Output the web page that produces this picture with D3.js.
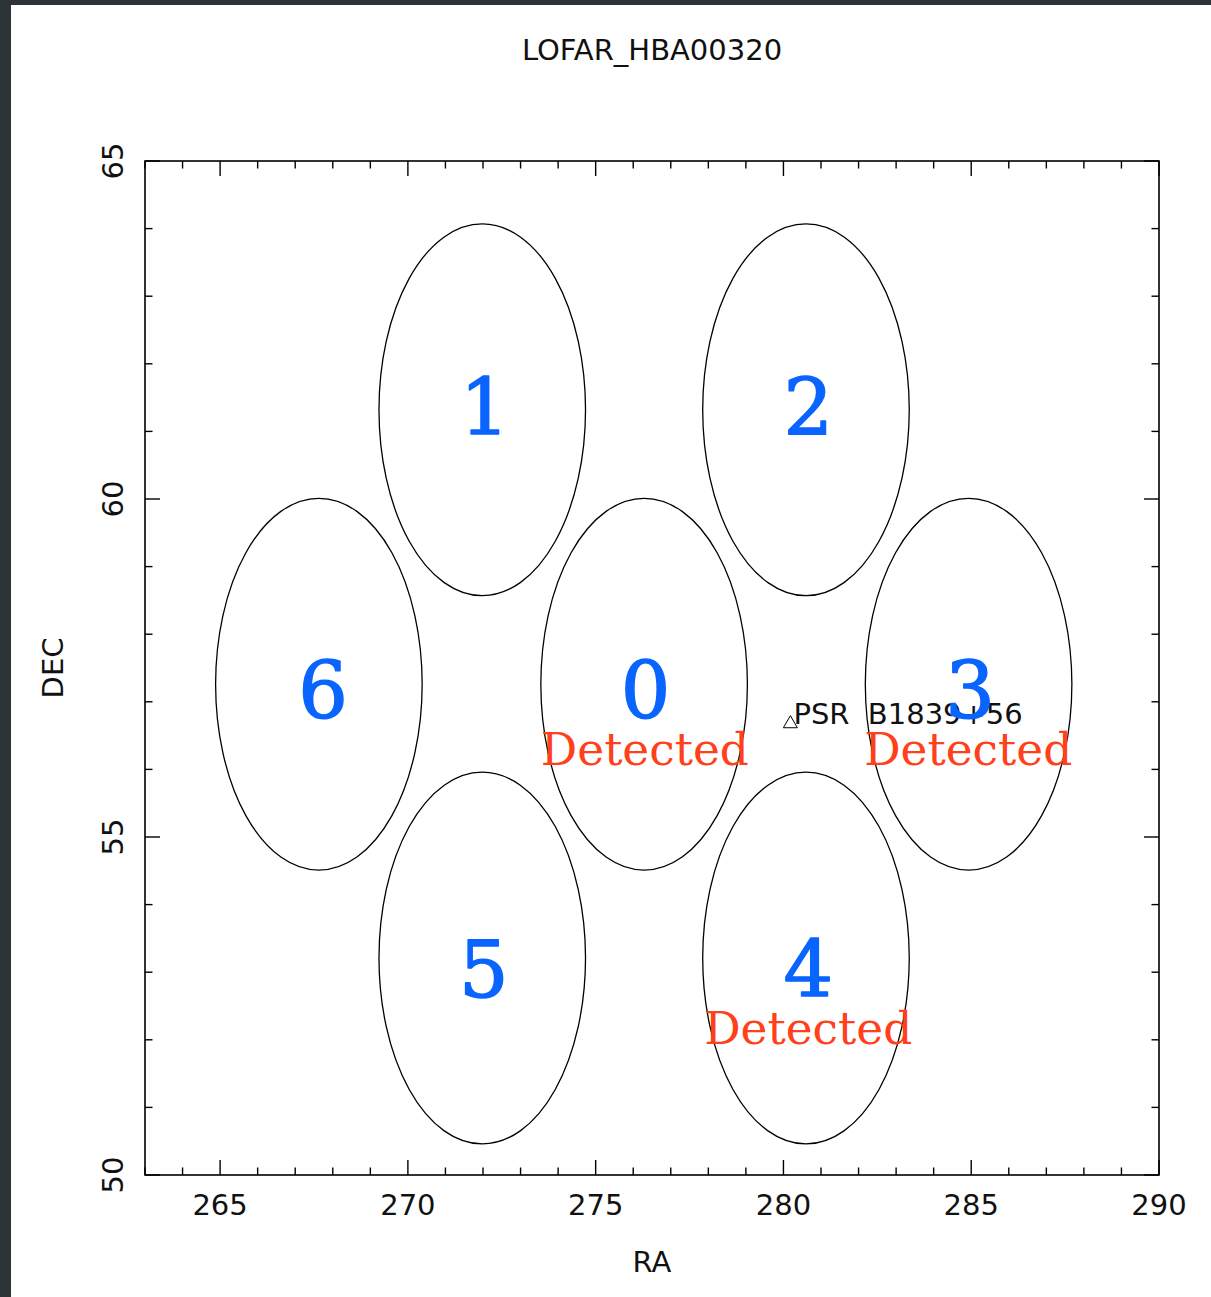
<!DOCTYPE html>
<html>
<head>
<meta charset="utf-8">
<title>LOFAR_HBA00320</title>
<script src="https://d3js.org/d3.v7.min.js"></script>
<style>
  body { margin: 0; background: #2c3438; }
  svg { display: block; }
  .frame { fill: none; stroke: #000; stroke-width: 1.6px; }
  .tick { stroke: #000; stroke-width: 1.4px; }
  .beam { fill: none; stroke: #000; stroke-width: 1.3px; }
  .lab { font-family: "DejaVu Sans", sans-serif; fill: #111; }
  .num { font-family: "DejaVu Serif", serif; fill: #0a64ff; stroke: #0a64ff; stroke-width: 1.5px; stroke-linejoin: round; }
  .det { font-family: "DejaVu Serif", serif; fill: #ff4019; }
</style>
</head>
<body>
<script>
// beam centres (deg) and radius
var beamIds  = ["0", "1", "2", "3", "4", "5", "6"];
var beamRa   = [276.29, 271.98, 280.60, 284.93, 280.60, 271.98, 267.63];
var beamDec  = [57.26, 61.32, 61.32, 57.26, 53.21, 53.21, 57.26];
var beamRadius = 2.75;

// beam number labels (baseline positions)
var labelRa  = [276.33, 272.05, 280.66, 284.97, 280.66, 272.02, 267.74];
var labelDec = [56.76, 60.95, 60.95, 56.76, 52.63, 52.63, 56.76];

// beams with a detection
var detectedBeams = [0, 3, 4];
var detectedRa  = [276.31, 284.92, 280.66];
var detectedDec = [56.07, 56.07, 51.94];

// the pulsar
var psrName = "PSR  B1839+56";
var psrRa = 280.185;
var psrDec = 56.676;

var raDomain = [263, 290];
var decDomain = [50, 65];
var raMajor = [265, 270, 275, 280, 285, 290];
var decMajor = [50, 55, 60, 65];

var W = 1211, H = 1297;
var box = {left: 145, right: 1159, top: 161, bottom: 1175};

var x = d3.scaleLinear().domain(raDomain).range([box.left, box.right]);
var y = d3.scaleLinear().domain(decDomain).range([box.bottom, box.top]);

var svg = d3.select("body").append("svg")
    .attr("width", W)
    .attr("height", H);

// white page on dark backdrop
svg.append("rect")
    .attr("x", 11).attr("y", 5)
    .attr("width", W - 11).attr("height", H - 5)
    .attr("fill", "#fff");

// minor + major ticks, on all four sides, pointing inwards
var raTicks = d3.range(raDomain[0], raDomain[1] + 1);
var decTicks = d3.range(decDomain[0], decDomain[1] + 1);
var tickLen = function(v) { return v % 5 === 0 ? 15 : 7.5; };

var g = svg.append("g");
raTicks.forEach(function(v) {
    g.append("line").attr("class", "tick")
        .attr("x1", x(v)).attr("x2", x(v))
        .attr("y1", box.bottom).attr("y2", box.bottom - tickLen(v));
    g.append("line").attr("class", "tick")
        .attr("x1", x(v)).attr("x2", x(v))
        .attr("y1", box.top).attr("y2", box.top + tickLen(v));
});
decTicks.forEach(function(v) {
    g.append("line").attr("class", "tick")
        .attr("x1", box.left).attr("x2", box.left + tickLen(v))
        .attr("y1", y(v)).attr("y2", y(v));
    g.append("line").attr("class", "tick")
        .attr("x1", box.right).attr("x2", box.right - tickLen(v))
        .attr("y1", y(v)).attr("y2", y(v));
});

svg.append("rect").attr("class", "frame")
    .attr("x", box.left).attr("y", box.top)
    .attr("width", box.right - box.left).attr("height", box.bottom - box.top);

// tick labels
svg.selectAll("text.xl")
    .data(raMajor)
    .enter().append("text")
    .attr("class", "lab xl")
    .attr("x", function(d) { return x(d); })
    .attr("y", 1215)
    .attr("text-anchor", "middle")
    .style("font-size", "29px")
    .text(function(d) { return d; });

svg.selectAll("text.yl")
    .data(decMajor)
    .enter().append("text")
    .attr("class", "lab yl")
    .attr("transform", function(d) { return "translate(123," + y(d) + ") rotate(-90)"; })
    .attr("text-anchor", "middle")
    .style("font-size", "29px")
    .text(function(d) { return d; });

// title and axis names
svg.append("text").attr("class", "lab")
    .attr("x", (box.left + box.right) / 2).attr("y", 60)
    .attr("text-anchor", "middle")
    .style("font-size", "29px")
    .text("LOFAR_HBA00320");

svg.append("text").attr("class", "lab")
    .attr("x", (box.left + box.right) / 2).attr("y", 1272)
    .attr("text-anchor", "middle")
    .style("font-size", "29px")
    .text("RA");

svg.append("text").attr("class", "lab")
    .attr("transform", "translate(63," + (box.top + box.bottom) / 2 + ") rotate(-90)")
    .attr("text-anchor", "middle")
    .style("font-size", "29px")
    .text("DEC");

// beams
var rx = x(beamRadius) - x(0);
var ry = y(0) - y(beamRadius);
svg.selectAll("ellipse.beam")
    .data(beamIds)
    .enter().append("ellipse")
    .attr("class", "beam")
    .attr("cx", function(d, i) { return x(beamRa[i]); })
    .attr("cy", function(d, i) { return y(beamDec[i]); })
    .attr("rx", rx)
    .attr("ry", ry);

// pulsar marker
svg.append("path")
    .attr("d", d3.symbol().type(d3.symbolTriangle).size(85)())
    .attr("transform", "translate(" + x(psrRa) + "," + y(psrDec) + ")")
    .attr("fill", "none")
    .attr("stroke", "#000")
    .attr("stroke-width", 1);

svg.append("text").attr("class", "lab")
    .attr("x", x(psrRa) + 3).attr("y", y(psrDec))
    .attr("xml:space", "preserve")
    .style("white-space", "pre")
    .style("font-size", "29px")
    .text(psrName);

// beam numbers
svg.selectAll("text.num")
    .data(beamIds)
    .enter().append("text")
    .attr("class", "num")
    .attr("x", function(d, i) { return x(labelRa[i]); })
    .attr("y", function(d, i) { return y(labelDec[i]); })
    .attr("text-anchor", "middle")
    .style("font-size", "78px")
    .text(function(d) { return d; });

// detections
svg.selectAll("text.det")
    .data(detectedBeams)
    .enter().append("text")
    .attr("class", "det")
    .attr("x", function(d, i) { return x(detectedRa[i]) - 104; })
    .attr("y", function(d, i) { return y(detectedDec[i]); })
    .attr("textLength", 208)
    .attr("lengthAdjust", "spacingAndGlyphs")
    .style("font-size", "44px")
    .text("Detected");
</script>
</body>
</html>
